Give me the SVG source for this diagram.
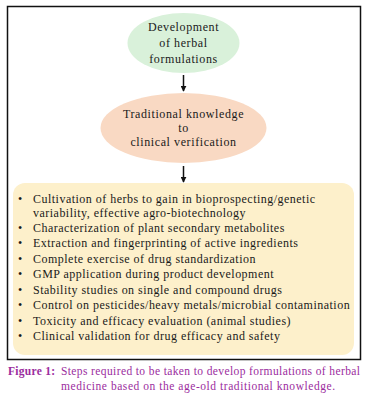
<svg xmlns="http://www.w3.org/2000/svg" width="371" height="400" viewBox="0 0 371 400">
<defs>
<style>
.t{font-family:"Liberation Serif","Times New Roman",serif;font-size:12px;fill:#1a1a1a;letter-spacing:0.48px}
.e{font-family:"Liberation Serif","Times New Roman",serif;font-size:12px;fill:#1a1a1a;letter-spacing:0.6px}
.c{font-family:"Liberation Serif","Times New Roman",serif;font-size:11.5px;fill:#9b2c9e}
.conn{stroke:#111;stroke-width:1.5;fill:none}
</style>
<marker id="ah" viewBox="0 0 8 8" refX="7" refY="4" markerWidth="4" markerHeight="4" orient="auto">
<path d="M0,0 L8,4 L0,8 Z" fill="#111"/>
</marker>
</defs>
<rect x="0" y="0" width="371" height="400" fill="#fff"/>
<rect x="7.5" y="6.5" width="353" height="353" fill="#fff" stroke="#111" stroke-width="1.5"/>
<g id="n1">
<ellipse cx="183.5" cy="43" rx="56" ry="30" fill="#d9f1da"/>
<text class="e" text-anchor="middle"><tspan x="183.5" y="31">Development</tspan><tspan x="183.5" y="47">of herbal</tspan><tspan x="183.5" y="63">formulations</tspan></text>
</g>
<g id="n2">
<ellipse cx="183.5" cy="128" rx="83" ry="35" fill="#f9d9c3"/>
<text class="e" text-anchor="middle"><tspan x="183.5" y="118">Traditional knowledge</tspan><tspan x="183.5" y="132">to</tspan><tspan x="183.5" y="146">clinical verification</tspan></text>
</g>
<g id="n3">
<rect x="13" y="183" width="341" height="172" rx="12" fill="#fdf0cb"/>
<g class="t">
<text x="18" y="203">•</text><text x="33" y="203">Cultivation of herbs to gain in bioprospecting/genetic</text>
<text x="33" y="217">variability, effective agro-biotechnology</text>
<text x="18" y="232">•</text><text x="33" y="232">Characterization of plant secondary metabolites</text>
<text x="18" y="247">•</text><text x="33" y="247">Extraction and fingerprinting of active ingredients</text>
<text x="18" y="263">•</text><text x="33" y="263">Complete exercise of drug standardization</text>
<text x="18" y="278">•</text><text x="33" y="278">GMP application during product development</text>
<text x="18" y="294">•</text><text x="33" y="294">Stability studies on single and compound drugs</text>
<text x="18" y="309">•</text><text x="33" y="309">Control on pesticides/heavy metals/microbial contamination</text>
<text x="18" y="325">•</text><text x="33" y="325">Toxicity and efficacy evaluation (animal studies)</text>
<text x="18" y="340">•</text><text x="33" y="340">Clinical validation for drug efficacy and safety</text>
</g>
</g>
<g id="connectors">
<line class="conn" x1="183.5" y1="75" x2="183.5" y2="91" marker-end="url(#ah)"/>
<line class="conn" x1="183.5" y1="166" x2="183.5" y2="182" marker-end="url(#ah)"/>
</g>
<g id="caption">
<text class="c" x="8" y="375" font-weight="bold" textLength="47" lengthAdjust="spacing">Figure 1:</text>
<text class="c" x="61" y="375" textLength="299" lengthAdjust="spacing">Steps required to be taken to develop formulations of herbal</text>
<text class="c" x="61" y="390" textLength="274" lengthAdjust="spacing">medicine based on the age-old traditional knowledge.</text>
</g>
</svg>
